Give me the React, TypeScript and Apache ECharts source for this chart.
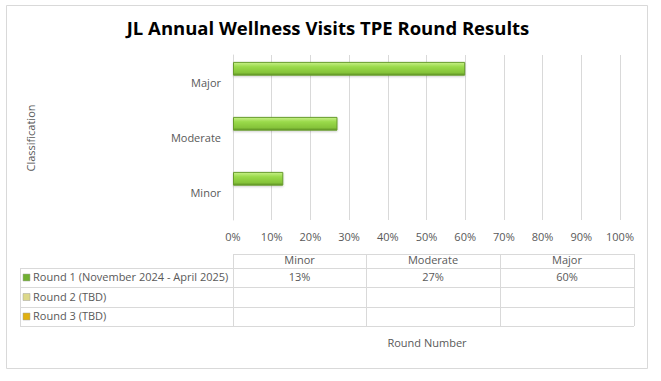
import React, { useEffect, useRef } from "react";
import * as echarts from "echarts";

const categories = ["Minor", "Moderate", "Major"];
const seriesNames = ["Round 1 (November 2024 - April 2025)", "Round 2 (TBD)", "Round 3 (TBD)"];
const round1 = [0.13, 0.27, 0.6];
const round2: (number | null)[] = [null, null, null];
const round3: (number | null)[] = [null, null, null];
const tableRows = [
  ["13%", "27%", "60%"],
  ["", "", ""],
  ["", "", ""],
];
const keyColors = ["#70b030", "#dcd88a", "#e0b010"];
const xTicks = [0, 0.1, 0.2, 0.3, 0.4, 0.5, 0.6, 0.7, 0.8, 0.9, 1.0];

const FONT = "'Open Sans', 'Noto Sans', sans-serif";

export default function App() {
  const ref = useRef<HTMLDivElement>(null);
  useEffect(() => {
    if (!ref.current) return;
    const chart = echarts.init(ref.current, null, { renderer: "svg" });

    const tLeft = 20, labelRight = 233, colEdges = [233, 366, 500, 634];
    const rowEdges = [254, 268, 287, 307, 326];
    const lineColor = "#d9d9d9";
    const g: any[] = [];
    rowEdges.forEach((y, i) => {
      g.push({ type: "line", shape: { x1: i === 0 ? labelRight : tLeft, y1: y + 0.5, x2: colEdges[3], y2: y + 0.5 }, style: { stroke: lineColor, lineWidth: 1 }, silent: true });
    });
    g.push({ type: "line", shape: { x1: tLeft + 0.5, y1: rowEdges[1], x2: tLeft + 0.5, y2: rowEdges[4] }, style: { stroke: lineColor, lineWidth: 1 } });
    colEdges.forEach((x) => {
      g.push({ type: "line", shape: { x1: x + 0.5, y1: rowEdges[0], x2: x + 0.5, y2: rowEdges[4] }, style: { stroke: lineColor, lineWidth: 1 } });
    });
    categories.forEach((c, j) => {
      g.push({ type: "text", x: (colEdges[j] + colEdges[j + 1]) / 2, y: 259.5, style: { text: c, fill: "#595959", font: `11px ${FONT}`, align: "center", verticalAlign: "middle" } });
    });
    seriesNames.forEach((n, i) => {
      const cy = (rowEdges[i + 1] + rowEdges[i + 2]) / 2;
      g.push({ type: "rect", shape: { x: 23, y: cy - 3.5, width: 7, height: 7 }, style: { fill: keyColors[i], stroke: "#a0a0a0", lineWidth: 0.5 } });
      g.push({ type: "text", x: 33, y: cy - 1, style: { text: n, fill: "#595959", font: `11px ${FONT}`, align: "left", verticalAlign: "middle" } });
      tableRows[i].forEach((v, j) => {
        if (!v) return;
        g.push({ type: "text", x: (colEdges[j] + colEdges[j + 1]) / 2, y: cy - 1, style: { text: v, fill: "#595959", font: `11px ${FONT}`, align: "center", verticalAlign: "middle" } });
      });
    });
    g.push({ type: "rect", shape: { x: 6.5, y: 5.5, width: 641, height: 363 }, style: { fill: "none", stroke: "#d9d9d9", lineWidth: 1 }, z: -1 });
    g.push({ type: "text", x: 427, y: 342, style: { text: "Round Number", fill: "#595959", font: `11px ${FONT}`, align: "center", verticalAlign: "middle" } });
    g.push({ type: "text", x: 30, y: 138, rotation: Math.PI / 2, style: { text: "Classification", fill: "#595959", font: `11px ${FONT}`, align: "center", verticalAlign: "middle" } });
    g.push({ type: "text", x: 328, y: 27, style: { text: "JL Annual Wellness Visits TPE Round Results", fill: "#000000", font: `bold 18.5px ${FONT}`, align: "center", verticalAlign: "middle" } });

    const barStyle = {
      color: new echarts.graphic.LinearGradient(0, 0, 0, 1, [
        { offset: 0, color: "#c8f08a" },
        { offset: 0.35, color: "#9ada4a" },
        { offset: 0.8, color: "#86c43a" },
        { offset: 1, color: "#5f9426" },
      ]),
      borderColor: "#679c2c",
      borderWidth: 1,
      shadowColor: "rgba(0,0,0,0.2)",
      shadowBlur: 2,
      shadowOffsetY: 1,
    };

    chart.setOption({
      animation: false,
      backgroundColor: "#ffffff",
      grid: { left: 233, right: 41, top: 55, bottom: 161, containLabel: false },
      xAxis: {
        type: "value",
        min: 0,
        max: 1,
        interval: 0.1,
        axisLine: { show: false },
        axisTick: { show: false },
        splitLine: { show: true, lineStyle: { color: "#d9d9d9" } },
        axisLabel: {
          color: "#595959",
          fontFamily: FONT,
          fontSize: 11,
          margin: 11,
          formatter: (v: number) => {
            const t = xTicks.find((x) => Math.abs(x - v) < 1e-9);
            return t === undefined ? "" : Math.round(t * 100) + "%";
          },
        },
      },
      yAxis: {
        type: "category",
        data: categories,
        axisLine: { show: true, lineStyle: { color: "#d9d9d9" } },
        axisTick: { show: false },
        axisLabel: { color: "#595959", fontFamily: FONT, fontSize: 11, margin: 12 },
      },
      series: [
        { name: seriesNames[0], type: "bar", data: round1, barGap: "0%", barCategoryGap: "25%", itemStyle: barStyle },
        { name: seriesNames[1], type: "bar", data: round2, barGap: "0%", barCategoryGap: "25%", itemStyle: { color: keyColors[1] } },
        { name: seriesNames[2], type: "bar", data: round3, barGap: "0%", barCategoryGap: "25%", itemStyle: { color: keyColors[2] } },
      ],
      graphic: g,
    });
    return () => chart.dispose();
  }, []);
  return <div ref={ref} style={{ width: 661, height: 381, position: "absolute", left: 0, top: 0 }} />;
}
